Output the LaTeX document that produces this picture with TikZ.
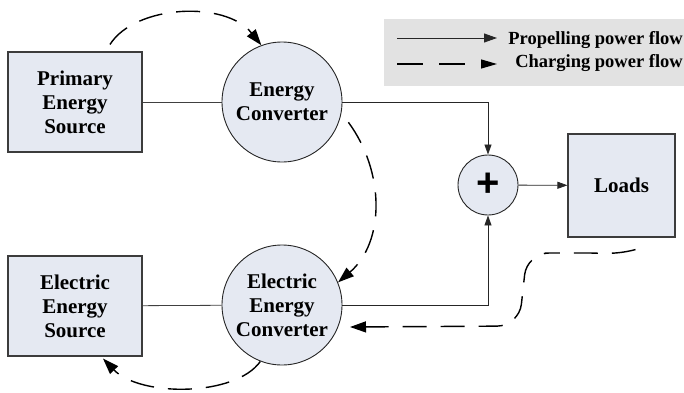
\documentclass[tikz,border=0pt]{standalone}
\usepackage{fontspec}
\setmainfont{Liberation Serif}
\newfontfamily\plusfont{Liberation Sans}
\usetikzlibrary{arrows.meta}
\definecolor{blockfill}{RGB}{229,233,242}
\definecolor{legendfill}{RGB}{226,226,226}
\definecolor{edgegray}{RGB}{60,60,60}
\tikzset{
  label/.style = {align=center, inner sep=0pt, text centered, font=\fontsize{21}{24}\selectfont\bfseries},
  srcbox/.style = {label, rectangle, draw=edgegray, line width=1.1pt, fill=blockfill, minimum width=134pt, minimum height=100pt},
  convnode/.style = {label, circle, draw=black!85, line width=0.9pt, fill=blockfill, minimum size=120pt},
  sumnode/.style = {circle, draw=black!85, line width=0.9pt, fill=blockfill, minimum size=60pt, inner sep=0pt},
  legendbox/.style = {rectangle, fill=legendfill, minimum width=300pt, minimum height=67pt},
  legendtext/.style = {inner sep=0pt, anchor=east, font=\fontsize{18.5}{20}\selectfont\bfseries},
  pflow/.style = {draw=black!85, line width=0.8pt, -{Triangle[length=10pt,width=7pt]}},
  pline/.style = {draw=black!75, line width=0.8pt},
  charge/.style = {draw=black, line width=1.4pt, dash pattern=on 24pt off 14pt, -{Triangle[length=16pt,width=11pt]}}
}
\begin{document}
\begin{tikzpicture}[x=1pt, y=1pt]
\useasboundingbox (0,0) rectangle (684,392);
% blocks
\node [srcbox] (pes) at (75,290) {Primary\\Energy\\Source};
\node [convnode] (ec) at (282,290) {Energy\\Converter};
\node [srcbox] (ees) at (75,86) {Electric\\Energy\\Source};
\node [convnode] (eec) at (282,87) {Electric\\Energy\\Converter};
\node [sumnode] (sum) at (488,207) {\plusfont\fontsize{40}{40}\selectfont\bfseries +};
\node [srcbox, minimum width=107pt, minimum height=103pt] (loads) at (621.5,206.5) {Loads};
% legend
\node [legendbox] (legend) at (534,339.5) {};
\coordinate (lgA) at (397,354);
\coordinate (lgB) at (497,354);
\coordinate (lgC) at (397,328);
\coordinate (lgD) at (497,328);
\draw [pflow, line width=1pt, -{Triangle[length=13pt,width=9pt]}] (lgA) -- (lgB);
\draw [charge, line width=1.2pt, dash pattern=on 26pt off 16pt, -{Triangle[length=16pt,width=9pt]}] (lgC) -- (lgD);
\node [legendtext] (lgtop) at (683,352) {Propelling power flow};
\node [legendtext] (lgbot) at (683,329) {Charging power flow};
% propelling power
\draw [pline] (pes) -- (ec);
\draw [pline] (ees) -- (eec);
\draw [pflow] (ec.east) -| (sum.north);
\draw [pflow] (eec.east) -| (sum.south);
\draw [pflow] (sum) -- (loads);
% charging power
\draw [charge] ([shift={(35,7)}]pes.north) .. controls (135,387) and (225,392) .. (ec.110);
\draw [charge] ([shift={(-17:9)}]ec.-17) .. controls (385,220) and (385,150) .. (eec.22);
\draw [charge] (eec.249) .. controls (235,-5) and (140,-5) .. ([shift={(28,-2)}]ees.south);
\draw [charge, rounded corners=22pt] ([shift={(14,-12)}]loads.south) .. controls (615,137) and (600,139) .. (567,139)
  -- (527,139) -- (519,66) -- ([shift={(68,-22)}]eec.center);
\end{tikzpicture}
\end{document}
